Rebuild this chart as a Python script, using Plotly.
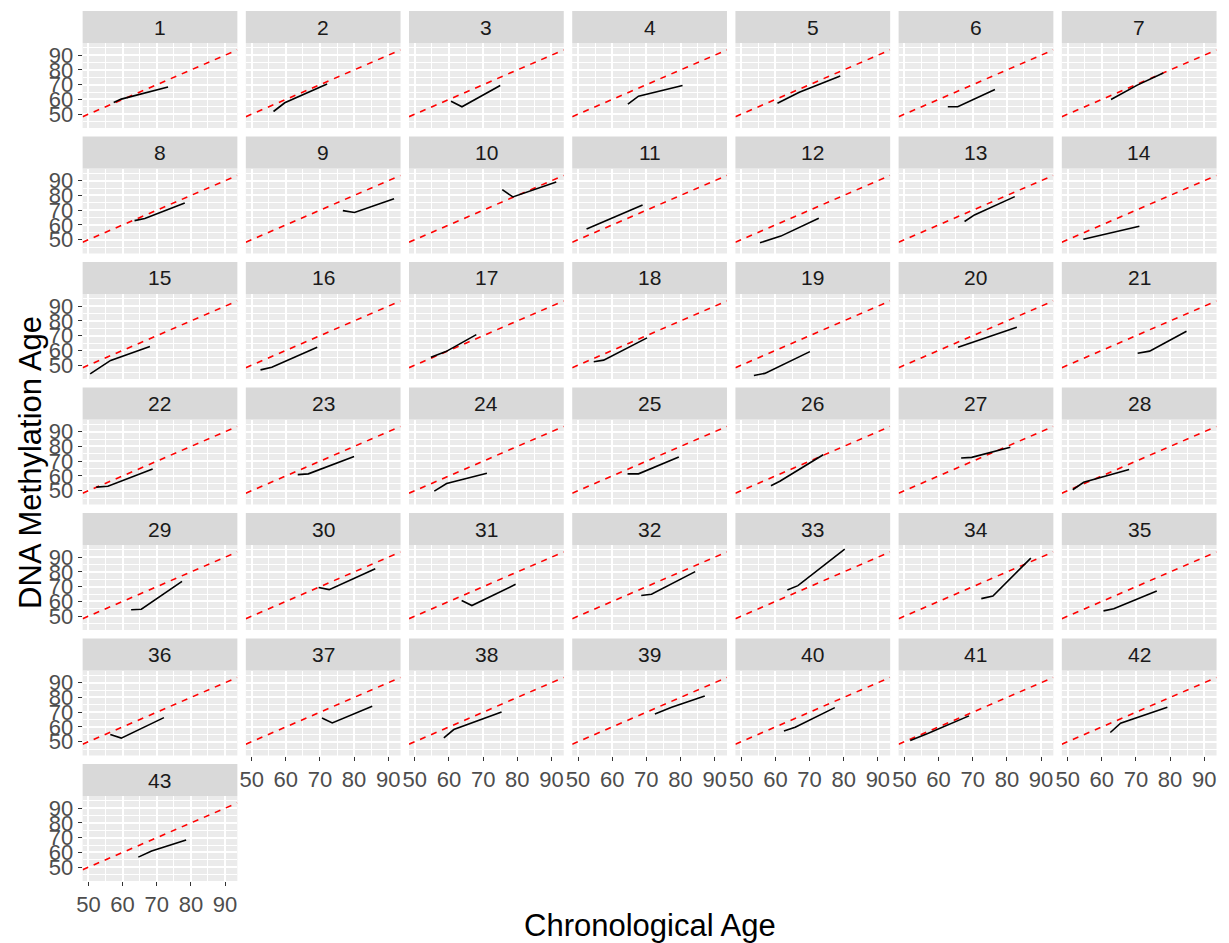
import plotly.graph_objects as go

subjects = list(range(1, 44))
chrono_age = [
    [57.4, 59.6, 73.3], [56.4, 59.7, 72.1], [60.6, 63.8, 75.0], [64.6, 67.7, 80.6],
    [60.6, 67.0, 79.0], [62.7, 65.6, 76.5], [62.7, 70.4, 78.0], [63.5, 66.5, 78.2],
    [76.7, 80.1, 91.7], [75.6, 78.7, 91.4], [52.5, 60.5, 68.9], [55.5, 61.6, 72.7],
    [67.6, 70.5, 82.3], [54.6, 62.8, 71.0], [50.5, 56.5, 68.0], [52.6, 55.9, 69.2],
    [54.7, 59.1, 68.0], [54.6, 57.5, 70.2], [53.7, 56.9, 70.1], [65.7, 74.3, 82.9],
    [70.5, 74.0, 84.8], [52.3, 55.7, 68.8], [63.5, 66.6, 80.0], [55.7, 59.3, 71.1],
    [64.5, 67.7, 79.5], [58.7, 61.3, 74.0], [66.6, 69.7, 81.0], [51.5, 54.7, 68.0],
    [62.5, 65.5, 77.4], [69.6, 72.7, 86.2], [63.7, 66.7, 79.5], [68.5, 71.5, 84.3],
    [63.5, 66.6, 80.3], [72.5, 75.9, 87.0], [60.5, 63.5, 76.1], [56.4, 59.6, 72.1],
    [70.6, 73.6, 85.3], [58.5, 61.4, 75.4], [72.5, 77.4, 87.1], [62.5, 65.8, 77.4],
    [51.7, 57.0, 68.9], [62.5, 65.5, 79.2], [64.6, 68.5, 78.6],
]
dnam_age = [
    [57.9, 60.2, 68.5], [51.8, 57.7, 70.5], [58.8, 55.0, 69.4], [56.8, 62.2, 69.4],
    [57.4, 64.9, 75.9], [55.0, 55.0, 66.7], [59.9, 69.7, 77.9], [62.9, 64.3, 74.8],
    [69.7, 68.4, 77.8], [83.9, 79.0, 89.1], [57.3, 65.2, 73.5], [47.9, 52.4, 64.5],
    [62.3, 66.8, 79.2], [50.3, 54.7, 59.1], [44.1, 53.2, 62.6], [46.8, 48.6, 62.2],
    [55.4, 59.2, 70.7], [52.3, 53.4, 68.5], [43.0, 44.4, 59.2], [62.2, 69.0, 75.7],
    [58.1, 59.5, 73.0], [52.4, 53.0, 64.7], [60.9, 61.4, 73.1], [49.7, 54.8, 61.8],
    [61.4, 61.4, 72.9], [53.3, 56.4, 74.4], [72.2, 72.6, 79.4], [50.6, 55.7, 64.3],
    [54.3, 54.7, 73.6], [69.4, 68.0, 82.2], [60.6, 57.2, 71.6], [64.0, 64.9, 80.2],
    [67.8, 70.7, 95.5], [61.9, 63.7, 89.4], [53.6, 55.0, 67.1], [54.8, 52.4, 66.3],
    [66.1, 62.7, 74.0], [52.6, 58.2, 70.2], [68.8, 73.3, 81.0], [57.3, 59.8, 73.1],
    [50.8, 55.7, 67.5], [56.2, 62.5, 73.3], [56.8, 61.0, 68.5],
]
tick_vals = [50, 60, 70, 80, 90]
tick_text = ["50", "60", "70", "80", "90"]
minor_vals = [45, 55, 65, 75, 85, 95]

W, H = 1229, 943
NCOL = 7
XR = [48.3, 93.6]
YR = [40.6, 98.3]
FONT = "Liberation Sans, Arial, Helvetica, sans-serif"

fig = go.Figure()
shapes = []
annotations = []
layout_axes = {}

n = len(subjects)
for i, sid in enumerate(subjects):
    r, c = divmod(i, NCOL)
    k = i + 1
    left = 77 + 164 * c
    right = left + 155.5
    top = 43 + 125.5 * r
    bottom = top + 85
    xd = [left / W, right / W]
    yd = [1 - bottom / H, 1 - top / H]
    xname = "x" if k == 1 else f"x{k}"
    yname = "y" if k == 1 else f"y{k}"
    xkey = "xaxis" if k == 1 else f"xaxis{k}"
    ykey = "yaxis" if k == 1 else f"yaxis{k}"
    show_x = (i + NCOL) >= n
    show_y = c == 0
    layout_axes[xkey] = dict(
        domain=xd, anchor=yname, range=XR, showgrid=True, gridcolor="white", gridwidth=1.6,
        tickvals=tick_vals, ticktext=tick_text, zeroline=False, showline=False,
        minor=dict(tickvals=minor_vals, showgrid=True, gridcolor="white", gridwidth=0.8),
        showticklabels=show_x, ticks="outside" if show_x else "", ticklen=4,
        tickcolor="#333333", tickwidth=1.1,
        tickfont=dict(family=FONT, size=22, color="#4D4D4D"),
    )
    layout_axes[ykey] = dict(
        domain=yd, anchor=xname, range=YR, showgrid=True, gridcolor="white", gridwidth=1.6,
        tickvals=tick_vals, ticktext=tick_text, zeroline=False, showline=False,
        minor=dict(tickvals=minor_vals, showgrid=True, gridcolor="white", gridwidth=0.8),
        showticklabels=show_y, ticks="outside" if show_y else "", ticklen=4,
        tickcolor="#333333", tickwidth=1.1,
        tickfont=dict(family=FONT, size=22, color="#4D4D4D"),
    )
    shapes.append(dict(type="rect", xref="paper", yref="paper", x0=xd[0], x1=xd[1],
                       y0=yd[0], y1=yd[1], fillcolor="#EBEBEB", line=dict(width=0),
                       layer="below"))
    s_top = 11 + 125.5 * r
    s_bot = s_top + 32
    shapes.append(dict(type="rect", xref="paper", yref="paper", x0=xd[0], x1=xd[1],
                       y0=1 - s_bot / H, y1=1 - s_top / H, fillcolor="#D9D9D9",
                       line=dict(width=0), layer="below"))
    annotations.append(dict(text=str(sid), xref="paper", yref="paper",
                            x=(xd[0] + xd[1]) / 2, y=1 - (s_top + s_bot) / 2 / H,
                            showarrow=False, xanchor="center", yanchor="middle",
                            font=dict(family=FONT, size=21, color="#1A1A1A")))
    fig.add_trace(go.Scatter(x=XR, y=XR, mode="lines", xaxis=xname, yaxis=yname,
                             line=dict(color="red", width=1.6, dash="6px,6px"),
                             showlegend=False, hoverinfo="skip"))
    fig.add_trace(go.Scatter(x=chrono_age[i], y=dnam_age[i], mode="lines",
                             xaxis=xname, yaxis=yname,
                             line=dict(color="black", width=1.6), showlegend=False))

annotations.append(dict(text="Chronological Age", xref="paper", yref="paper",
                        x=646.7 / W, y=1 - 925 / H, showarrow=False,
                        xanchor="center", yanchor="middle",
                        font=dict(family=FONT, size=31, color="black")))
annotations.append(dict(text="DNA Methylation Age", xref="paper", yref="paper",
                        x=24 / W, y=1 - 462 / H, showarrow=False, textangle=-90,
                        xanchor="center", yanchor="middle",
                        font=dict(family=FONT, size=31, color="black")))

fig.update_layout(
    width=W, height=H, margin=dict(l=0, r=0, t=0, b=0),
    paper_bgcolor="white", plot_bgcolor="rgba(0,0,0,0)",
    shapes=shapes, annotations=annotations, showlegend=False,
    **layout_axes,
)
fig.write_html(
    "out.html",
    config={"displayModeBar": False},
    post_script="document.body.style.margin='0';document.body.style.overflow='hidden';"
                "document.documentElement.style.overflow='hidden';",
)
